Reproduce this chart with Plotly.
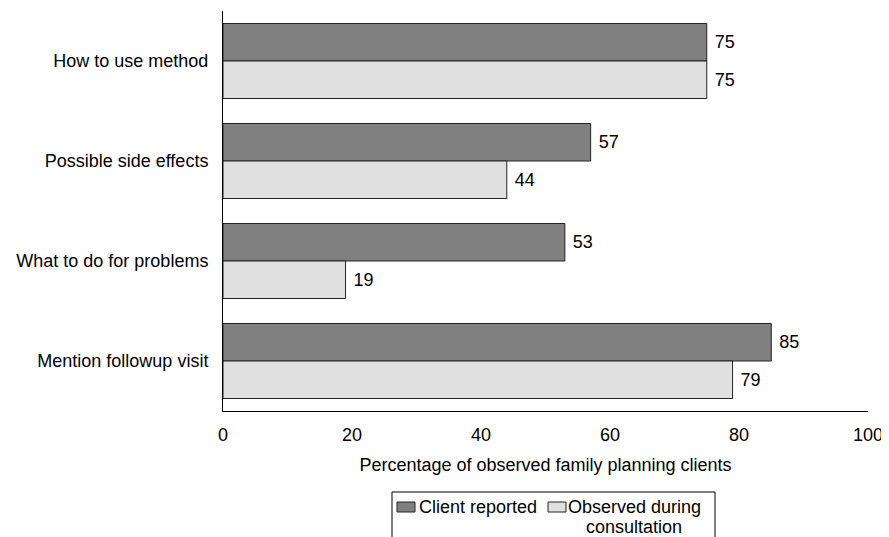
import plotly.graph_objects as go

categories = ["How to use method", "Possible side effects", "What to do for problems", "Mention followup visit"]
client_reported = [75, 57, 53, 85]
observed = [75, 44, 19, 79]
series_names = ["Client reported", "Observed during<br>consultation"]
series_colors = ["#808080", "#e0e0e0"]
x_ticks = [0, 20, 40, 60, 80, 100]

font = dict(family="Liberation Sans, Arial, sans-serif", size=18, color="black")

fig = go.Figure()
for name, vals, col in zip(series_names, [client_reported, observed], series_colors):
    fig.add_trace(go.Bar(
        y=categories, x=vals, orientation="h", name=name.replace("<br>", " "),
        marker=dict(color=col, line=dict(color="#222222", width=1)),
        text=vals, texttemplate=" %{x}", textposition="outside",
        textfont=font, cliponaxis=False, showlegend=False,
    ))

# screen-pixel -> paper helpers (plot area spans x 223..868, y 11..411 on screen)
PX0, PX1, PY0, PY1 = 223, 868, 11, 411
def px(x):
    return (x - PX0) / (PX1 - PX0)
def py(y):
    return (PY1 - y) / (PY1 - PY0)

shapes = [dict(type="rect", xref="paper", yref="paper",
               x0=px(392), x1=px(715), y0=py(492), y1=py(560),
               line=dict(color="black", width=1), fillcolor="rgba(0,0,0,0)")]
annotations = []
legend_layout = [(397, 417, None), (548, 566, 634)]
for (sx, tx, cx), name, col in zip(legend_layout, series_names, series_colors):
    shapes.append(dict(type="rect", xref="paper", yref="paper",
                       x0=px(sx), x1=px(sx + 18), y0=py(502), y1=py(512),
                       line=dict(color="#222222", width=1), fillcolor=col))
    lines = name.split("<br>")
    if len(lines) == 1:
        annotations.append(dict(text=lines[0], xref="paper", yref="paper",
                                x=px(tx), y=py(507), xanchor="left", yanchor="middle",
                                showarrow=False, font=font))
    else:
        for i, ln in enumerate(lines):
            annotations.append(dict(text=ln, xref="paper", yref="paper",
                                    x=px(cx), y=py(507 + 20 * i), xanchor="center", yanchor="middle",
                                    showarrow=False, font=font))

# page body has an 8px margin, so the figure is shifted 8px right and down
fig.update_layout(
    width=881, height=529,
    margin=dict(l=215, r=21, t=3, b=126, autoexpand=False),
    paper_bgcolor="white", plot_bgcolor="white",
    font=font,
    barmode="group", bargap=0.25, bargroupgap=0,
    showlegend=False,
    shapes=shapes, annotations=annotations,
    xaxis=dict(range=[0, 100], tickvals=x_ticks, showgrid=False, zeroline=False,
               showline=True, linecolor="black", linewidth=1, ticks="",
               ticklabeloverflow="allow", ticklabelstandoff=7,
               title=dict(text="Percentage of observed family planning clients", font=font, standoff=14),
               tickfont=font, fixedrange=True),
    yaxis=dict(autorange="reversed", showgrid=False, zeroline=False,
               showline=True, linecolor="black", linewidth=1, ticks="",
               ticklabelstandoff=10, tickfont=font, fixedrange=True),
)

fig.write_html("out.html")
